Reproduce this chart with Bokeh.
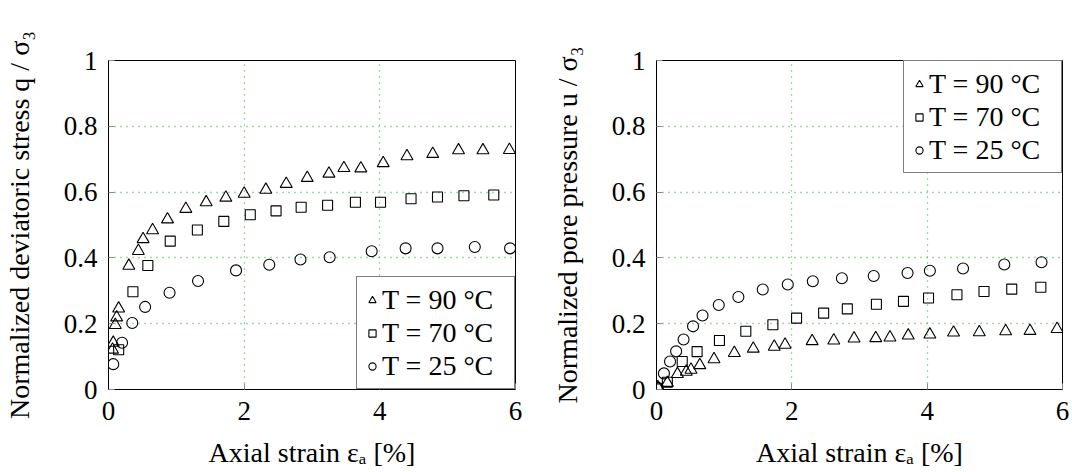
from bokeh.plotting import figure
from bokeh.layouts import row
from bokeh.models import Range1d, FixedTicker, CustomJSTickFormatter
from bokeh.embed import file_html
from bokeh.resources import INLINE

# ---- data ----
labels = ["T = 90 °C", "T = 70 °C", "T = 25 °C"]
x_ticks = [0, 2, 4, 6]
y_ticks = [0, 0.2, 0.4, 0.6, 0.8, 1]

q_x_90 = [0.06, 0.07, 0.10, 0.12, 0.15, 0.30, 0.44, 0.51, 0.65, 0.87, 1.14, 1.44, 1.73, 2.00, 2.32, 2.62,
          2.93, 3.25, 3.47, 3.72, 4.05, 4.40, 4.78, 5.16, 5.52, 5.91]
q_y_90 = [0.121, 0.142, 0.196, 0.219, 0.246, 0.376, 0.421, 0.457, 0.484, 0.517, 0.549, 0.569, 0.583, 0.595,
          0.607, 0.625, 0.643, 0.656, 0.673, 0.672, 0.688, 0.709, 0.716, 0.727, 0.727, 0.728]
q_x_70 = [0.15, 0.36, 0.58, 0.91, 1.31, 1.70, 2.09, 2.47, 2.84, 3.23, 3.64, 4.01, 4.46, 4.85, 5.24, 5.68]
q_y_70 = [0.121, 0.297, 0.377, 0.451, 0.485, 0.511, 0.531, 0.543, 0.554, 0.560, 0.569, 0.569, 0.580,
          0.585, 0.589, 0.591]
q_x_25 = [0.07, 0.20, 0.35, 0.54, 0.90, 1.32, 1.88, 2.37, 2.83, 3.26, 3.88, 4.38, 4.85, 5.40, 5.92]
q_y_25 = [0.077, 0.142, 0.202, 0.251, 0.294, 0.330, 0.362, 0.379, 0.395, 0.402, 0.420, 0.429, 0.429,
          0.433, 0.429]

u_x_90 = [0.02, 0.16, 0.31, 0.44, 0.51, 0.64, 0.85, 1.15, 1.43, 1.74, 1.90, 2.30, 2.62, 2.92, 3.24, 3.45,
          3.72, 4.04, 4.39, 4.77, 5.16, 5.52, 5.92]
u_y_90 = [0.007, 0.020, 0.047, 0.054, 0.060, 0.074, 0.092, 0.111, 0.124, 0.130, 0.136, 0.147, 0.149,
          0.155, 0.156, 0.158, 0.164, 0.167, 0.173, 0.174, 0.177, 0.178, 0.184]
u_x_70 = [0.01, 0.16, 0.38, 0.60, 0.93, 1.32, 1.72, 2.07, 2.47, 2.82, 3.25, 3.65, 4.02, 4.44, 4.84, 5.25, 5.68]
u_y_70 = [0.002, 0.022, 0.085, 0.115, 0.149, 0.177, 0.197, 0.217, 0.232, 0.245, 0.259, 0.268, 0.278,
          0.288, 0.298, 0.305, 0.311]
u_x_25 = [0.02, 0.11, 0.20, 0.29, 0.40, 0.54, 0.68, 0.92, 1.21, 1.57, 1.94, 2.31, 2.74, 3.21, 3.71, 4.04,
          4.53, 5.14, 5.69]
u_y_25 = [0.005, 0.049, 0.085, 0.116, 0.152, 0.192, 0.225, 0.257, 0.281, 0.304, 0.319, 0.329, 0.338,
          0.345, 0.354, 0.361, 0.368, 0.380, 0.387]

FONT = "Liberation Serif"
TICK_FS = "27px"
LABEL_FS = "28px"
fmt = CustomJSTickFormatter(code="return String(tick);")


def make(width, border_left, border_right, ylabel, series, legend_loc):
    p = figure(width=width, height=470, output_backend="svg", toolbar_location=None,
               x_range=Range1d(0, 6), y_range=Range1d(0, 1),
               min_border_left=border_left, min_border_right=border_right,
               min_border_top=60, min_border_bottom=20)
    p.outline_line_color = "black"
    p.outline_line_width = 1
    p.background_fill_color = "white"
    p.border_fill_color = "white"

    for ax, ticks in ((p.xaxis[0], x_ticks), (p.yaxis[0], y_ticks)):
        ax.ticker = FixedTicker(ticks=ticks)
        ax.formatter = fmt
        ax.major_label_text_font = FONT
        ax.major_label_text_font_size = TICK_FS
        ax.major_label_text_color = "black"
        ax.axis_label_text_font = FONT
        ax.axis_label_text_font_size = LABEL_FS
        ax.axis_label_text_font_style = "normal"
        ax.axis_label_text_color = "black"
        ax.axis_line_color = "black"
        ax.major_tick_in = 6
        ax.major_tick_out = 0
        ax.major_tick_line_color = "#8a8a8a"
        ax.minor_tick_line_color = None
    p.xaxis[0].axis_label = "Axial strain εₐ [%]"
    p.xaxis[0].major_label_standoff = 12
    p.xaxis[0].axis_label_standoff = 14
    p.yaxis[0].axis_label = ylabel
    p.yaxis[0].major_label_standoff = 11
    p.yaxis[0].axis_label_standoff = 26

    for g in (p.xgrid[0], p.ygrid[0]):
        g.grid_line_color = "#4fae4f"
        g.grid_line_width = 1.3
        g.grid_line_dash = "1 5"
    p.xgrid[0].ticker = FixedTicker(ticks=x_ticks)
    p.ygrid[0].ticker = FixedTicker(ticks=y_ticks)

    markers = ["triangle", "square", "circle"]
    sizes = [12, 10, 11]
    for (xs, ys), mk, sz, lab in zip(series, markers, sizes, labels):
        p.scatter(xs, ys, marker=mk, size=sz, fill_color=None, line_color="black",
                  line_width=1.1, legend_label=lab)

    lg = p.legend[0]
    lg.location = legend_loc
    lg.margin = 0
    lg.padding = 6
    lg.spacing = 0
    lg.label_height = 33
    lg.label_width = 126
    lg.glyph_width = 18
    lg.glyph_height = 18
    lg.label_standoff = 1
    lg.label_text_font = FONT
    lg.label_text_font_size = LABEL_FS
    lg.label_text_color = "black"
    lg.border_line_color = "black"
    lg.border_line_width = 1
    lg.background_fill_alpha = 1
    return p


p1 = make(548, 108, 33, "Normalized deviatoric stress q / σ₃",
          [(q_x_90, q_y_90), (q_x_70, q_y_70), (q_x_25, q_y_25)], "bottom_right")
p2 = make(524, 108, 10, "Normalized pore pressure u / σ₃",
          [(u_x_90, u_y_90), (u_x_70, u_y_70), (u_x_25, u_y_25)], "top_right")

layout = row(p1, p2)
open("out.html", "w").write(file_html(layout, INLINE))
